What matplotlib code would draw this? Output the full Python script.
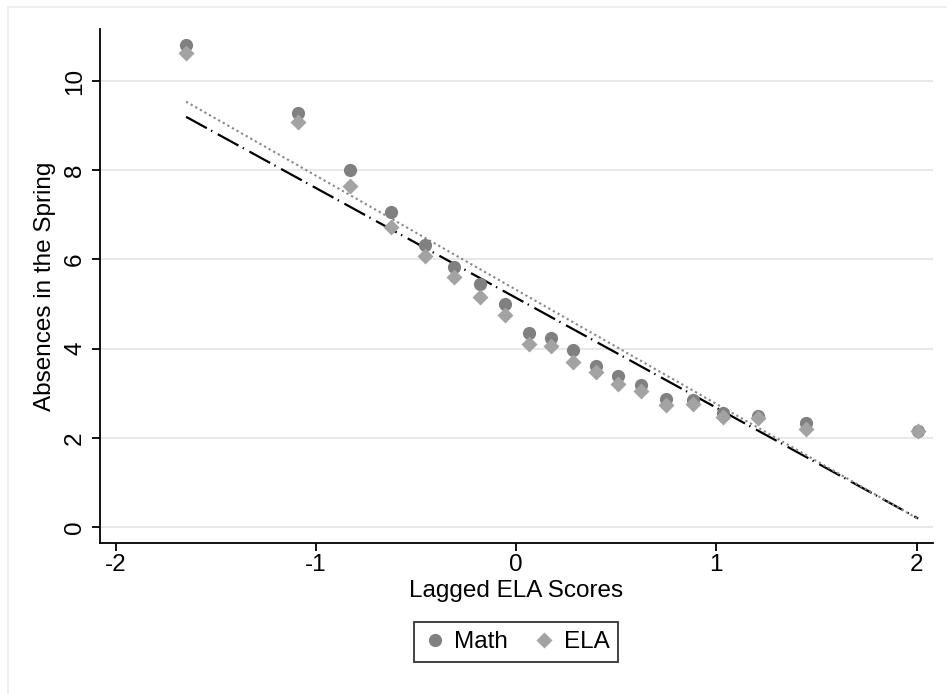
import matplotlib
matplotlib.use("Agg")
import matplotlib.pyplot as plt
from matplotlib.lines import Line2D

plt.rcParams['font.family'] = ['Liberation Sans', 'DejaVu Sans']
plt.rcParams['lines.scale_dashes'] = False

# Binned scatter data
x_bins = [-1.648, -1.089, -0.829, -0.623, -0.455, -0.309, -0.178, -0.056,
          0.063, 0.176, 0.284, 0.397, 0.510, 0.623, 0.748, 0.882, 1.032,
          1.206, 1.448, 2.008]
math_y = [10.81, 9.29, 8.01, 7.06, 6.32, 5.84, 5.44, 5.00,
          4.36, 4.24, 3.97, 3.62, 3.39, 3.18, 2.87, 2.85, 2.56,
          2.49, 2.34, 2.16]
ela_y = [10.64, 9.09, 7.64, 6.72, 6.08, 5.61, 5.15, 4.75,
         4.10, 4.06, 3.71, 3.47, 3.20, 3.05, 2.74, 2.76, 2.47,
         2.44, 2.20, 2.16]

# Linear fit lines (endpoints)
fit_x = [-1.648, 2.008]
math_fit = [9.20, 0.19]
ela_fit = [9.54, 0.18]

x_ticks = [-2, -1, 0, 1, 2]
y_ticks = [0, 2, 4, 6, 8, 10]

W, H = 947, 694
fig = plt.figure(figsize=(W / 100, H / 100), dpi=100)
ax = fig.add_axes([100 / W, 1 - 543 / H, (933 - 100) / W, (543 - 29) / H])

# outer light frame
fig.add_artist(Line2D([8 / W, 8 / W], [0, 1 - 7 / H], color='#eeeeee', lw=1.5,
                      transform=fig.transFigure))
fig.add_artist(Line2D([8 / W, 1], [1 - 7 / H, 1 - 7 / H], color='#eeeeee', lw=1.5,
                      transform=fig.transFigure))

math_color = '#808080'
ela_color = '#a3a3a3'

ax.plot(fit_x, math_fit, color='black', lw=1.6, linestyle=(0, (17, 3.5, 1, 4.5)), zorder=3)
ax.plot(fit_x, ela_fit, color='#888888', lw=1.5, linestyle=(0, (1.6, 2.2)), zorder=3)

ax.plot(x_bins, math_y, 'o', color=math_color, ms=9.5, mec='none', zorder=4, label='Math')
ax.plot(x_bins, ela_y, 'D', color=ela_color, ms=8.5, mec='none', zorder=5, label='ELA')

ax.set_xlim(-2.078, 2.082)
ax.set_ylim(-0.36, 11.17)
ax.set_xticks(x_ticks)
ax.set_yticks(y_ticks)
ax.set_xticklabels([str(t) for t in x_ticks])
ax.set_yticklabels([str(t) for t in y_ticks], rotation=90, va='center')

for s in ['top', 'right']:
    ax.spines[s].set_visible(False)
for s in ['left', 'bottom']:
    ax.spines[s].set_linewidth(1.3)
    ax.spines[s].set_color('black')

ax.tick_params(axis='both', direction='out', length=6, width=1.3, labelsize=17.5, colors='black')
ax.tick_params(axis='y', pad=4)
ax.tick_params(axis='x', pad=2)
ax.yaxis.grid(True, color='#e8e8e8', lw=1.5)
ax.set_axisbelow(True)

ax.set_xlabel('Lagged ELA Scores', fontsize=17.5, labelpad=3)
ax.set_ylabel('Absences in the Spring', fontsize=17.5, labelpad=6)

leg = fig.legend(handles=[
    Line2D([], [], marker='o', color=math_color, ls='none', ms=9.5, mec='none', label='Math'),
    Line2D([], [], marker='D', color=ela_color, ls='none', ms=8.5, mec='none', label='ELA')],
    loc='center', bbox_to_anchor=(516 / W, 1 - 642 / H), ncol=2, fontsize=17.5,
    frameon=True, fancybox=False, edgecolor='black', handletextpad=0.3,
    columnspacing=1.0, handlelength=1.0, borderpad=0.35)
leg.get_frame().set_linewidth(1.3)

fig.savefig('out.png', dpi=100)
